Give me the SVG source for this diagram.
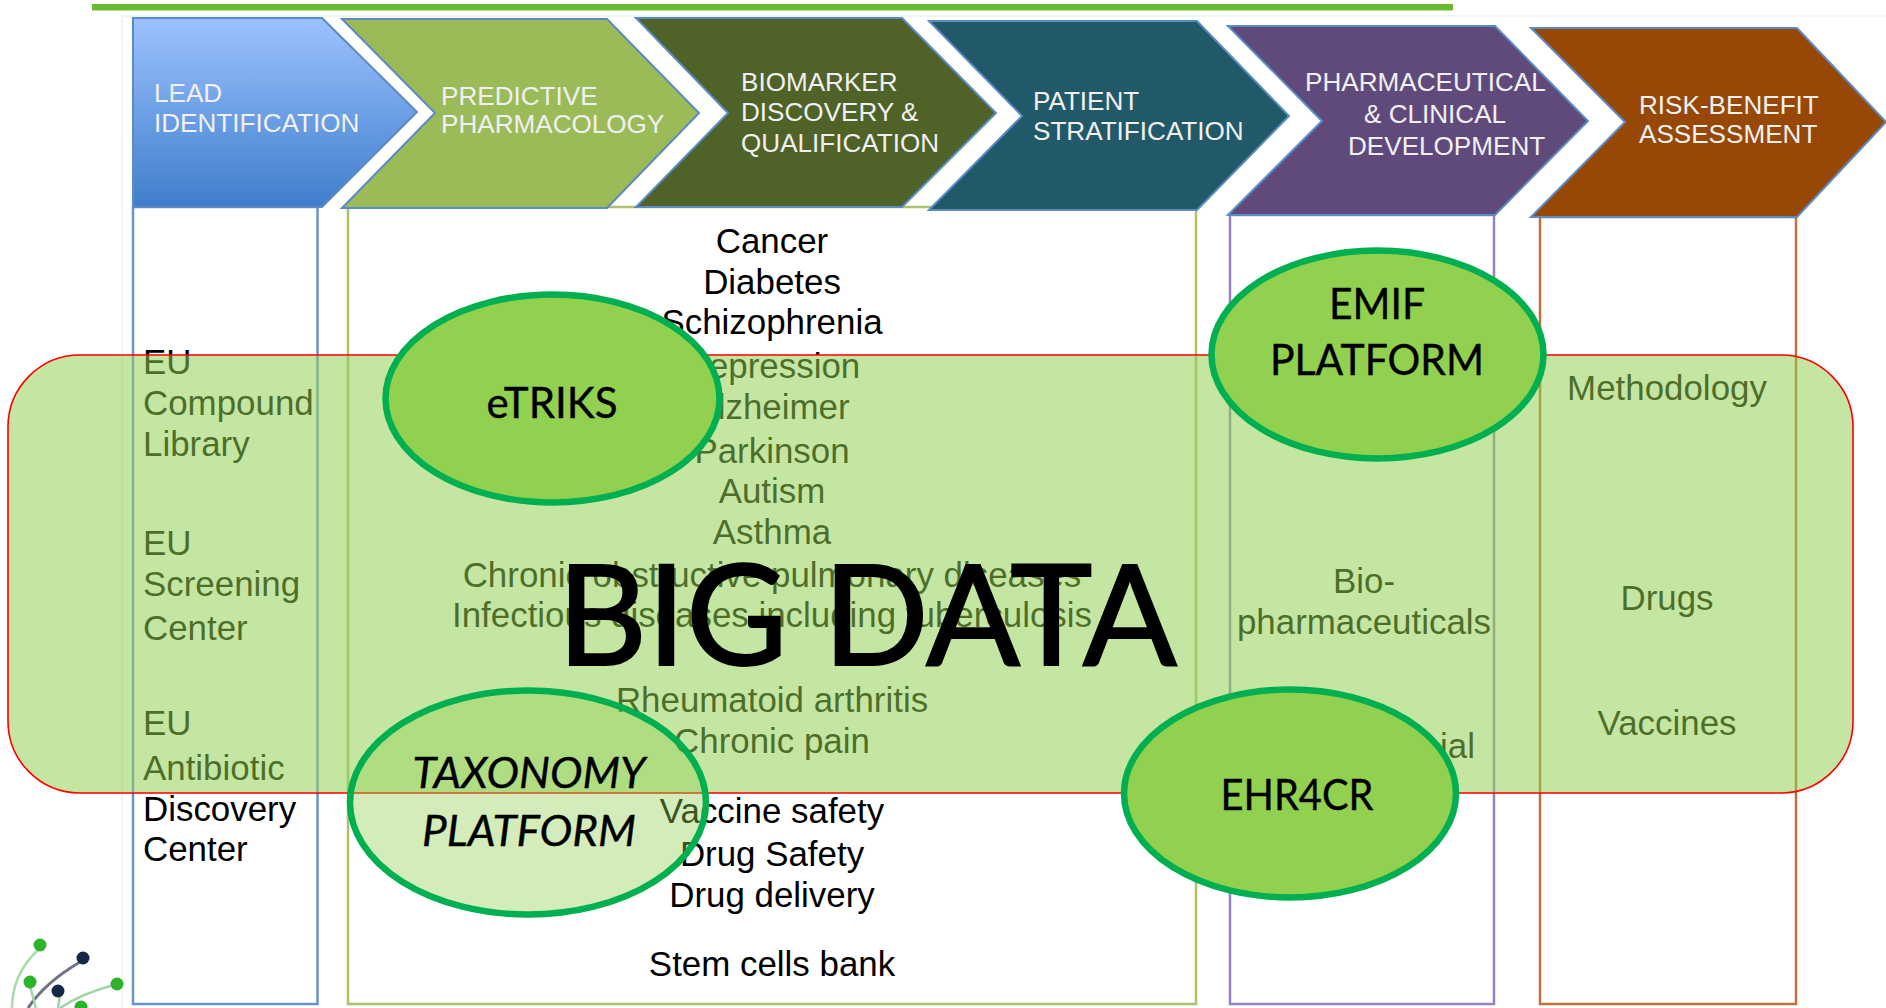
<svg xmlns="http://www.w3.org/2000/svg" width="1886" height="1008" viewBox="0 0 1886 1008">
<style>
.chev{stroke:#5b8ac4;stroke-width:2}
.ct{font-family:"Liberation Sans",Arial,sans-serif;font-size:26.1px;fill:#f0f0f0}
.lt{font-family:"Liberation Sans",Arial,sans-serif;font-size:34.9px;fill:#000}
.m{text-anchor:middle}
.box{fill:#fff;stroke-width:2.5}
.el{fill:#92d050;stroke:#00b050;stroke-width:6.5}
.et{font-family:Lato,"Open Sans",sans-serif;font-size:43px;fill:#000;stroke:#000;stroke-width:.4;text-anchor:middle}
</style>
<defs><linearGradient id="g1" x1="0" y1="0" x2="0" y2="1"><stop offset="0" stop-color="#9cc2ff"/><stop offset="1" stop-color="#3f7ecb"/></linearGradient></defs>
<rect width="1886" height="1008" fill="#fff"/>
<g id="frame"><path d="M122 1008V16H1886" fill="none" stroke="#eef6ee" stroke-width="2"/><rect x="92" y="4" width="1361" height="6.500" fill="#66bb2e"/></g>
<g id="logo" fill="none">
<path d="M12 1008C12 985 22 965 38 950" stroke="#a9dba9" stroke-width="2.500"/>
<path d="M28 1008C40 990 58 975 80 962" stroke="#6e7488" stroke-width="3"/>
<path d="M58 1008 60 995M60 1008C78 996 95 990 114 985M30 986 36 1008" stroke="#9fd5a6" stroke-width="2.500"/>
<g stroke="none"><circle cx="40" cy="945" r="6.500" fill="#2cb32c"/><circle cx="30" cy="982" r="6.500" fill="#2cb32c"/><circle cx="117" cy="984" r="6.500" fill="#2cb32c"/><circle cx="81" cy="1007" r="6.500" fill="#2cb32c"/><circle cx="83" cy="958" r="6.500" fill="#14294a"/><circle cx="58" cy="991" r="6.500" fill="#14294a"/></g>
</g>
<g id="column-lead"><rect class="box" x="133" y="207" width="184.500" height="797" stroke="#6a92c8"/>
<text class="lt" x="143" y="374">EU</text><text class="lt" x="143" y="415">Compound</text><text class="lt" x="143" y="456">Library</text>
<text class="lt" x="143" y="555">EU</text><text class="lt" x="143" y="596">Screening</text><text class="lt" x="143" y="640">Center</text>
<text class="lt" x="143" y="735">EU</text><text class="lt" x="143" y="780">Antibiotic</text><text class="lt" x="143" y="821">Discovery</text><text class="lt" x="143" y="861">Center</text></g>
<g id="column-center"><rect class="box" x="348" y="207" width="848" height="797" stroke="#a9c46c"/>
<text class="lt m" x="772" y="253">Cancer</text><text class="lt m" x="772" y="294">Diabetes</text><text class="lt m" x="772" y="334">Schizophrenia</text><text class="lt m" x="772" y="378">Depression</text><text class="lt m" x="772" y="419">Alzheimer</text><text class="lt m" x="772" y="463">Parkinson</text><text class="lt m" x="772" y="503">Autism</text><text class="lt m" x="772" y="544">Asthma</text><text class="lt m" x="772" y="587">Chronic obstructive pulmonary diseases</text><text class="lt m" x="772" y="627">Infectious diseases including tuberculosis</text><text class="lt m" x="772" y="712">Rheumatoid arthritis</text><text class="lt m" x="772" y="753">Chronic pain</text><text class="lt m" x="772" y="823">Vaccine safety</text><text class="lt m" x="772" y="866">Drug Safety</text><text class="lt m" x="772" y="907">Drug delivery</text><text class="lt m" x="772" y="976">Stem cells bank</text>
</g>
<g id="column-pharma"><rect class="box" x="1230" y="215" width="264" height="789" stroke="#9a80bd"/>
<text class="lt m" x="1364" y="593">Bio-</text><text class="lt m" x="1364" y="634">pharmaceuticals</text><text class="lt" x="1440" y="758">ial</text></g>
<g id="column-risk"><rect class="box" x="1540" y="217" width="256" height="787" stroke="#b9733f"/>
<text class="lt m" x="1667" y="400">Methodology</text><text class="lt m" x="1667" y="610">Drugs</text><text class="lt m" x="1667" y="735">Vaccines</text></g>
<g id="step-lead"><polygon class="chev" fill="url(#g1)" points="133,18 322,18 417,112 322,207 133,207"/><text class="ct" x="154" y="102">LEAD</text><text class="ct" x="154" y="132">IDENTIFICATION</text></g>
<g id="step-predictive"><polygon class="chev" fill="#9bbb59" points="342,19 607,19 699,113 607,208 342,208 435,113"/><text class="ct" x="441" y="105">PREDICTIVE</text><text class="ct" x="441" y="133">PHARMACOLOGY</text></g>
<g id="step-biomarker"><polygon class="chev" fill="#4f6228" points="636,18 902,18 996,113 902,207 636,207 728,113"/><text class="ct" x="741" y="91">BIOMARKER</text><text class="ct" x="741" y="121">DISCOVERY &amp;</text><text class="ct" x="741" y="152">QUALIFICATION</text></g>
<g id="step-patient"><polygon class="chev" fill="#215968" points="929,21 1197,21 1289,116 1197,210 929,210 1022,116"/><text class="ct" x="1033" y="110">PATIENT</text><text class="ct" x="1033" y="140">STRATIFICATION</text></g>
<g id="step-pharma"><polygon class="chev" fill="#604a7b" points="1228,26 1495,26 1588,121 1495,215 1228,215 1322,121"/><text class="ct" x="1305" y="91">PHARMACEUTICAL</text><text class="ct" x="1364" y="123">&amp; CLINICAL</text><text class="ct" x="1348" y="155">DEVELOPMENT</text></g>
<g id="step-risk"><polygon class="chev" fill="#974806" points="1531,28 1797,28 1886,122 1797,217 1531,217 1625,122"/><text class="ct" x="1639" y="114">RISK-BENEFIT</text><text class="ct" x="1639" y="143">ASSESSMENT</text></g>
<g id="big-data"><rect x="8" y="355" width="1845" height="438" rx="72" ry="72" fill="#92d050" fill-opacity=".53" stroke="#f00" stroke-width="1.600"/>
<text x="867" y="665" font-family="Lato,'Open Sans',sans-serif" font-size="139" text-anchor="middle" fill="#000" stroke="#000" stroke-width="2">BIG DATA</text></g>
<g id="etriks"><ellipse class="el" cx="552.500" cy="398.500" rx="167" ry="104"/><text class="et" x="552" y="418" textLength="131" lengthAdjust="spacingAndGlyphs">eTRIKS</text></g>
<g id="emif"><ellipse class="el" cx="1377.500" cy="354.500" rx="166" ry="104"/><text class="et" x="1377" y="319" textLength="96" lengthAdjust="spacingAndGlyphs">EMIF</text><text class="et" x="1377" y="375" textLength="214" lengthAdjust="spacingAndGlyphs">PLATFORM</text></g>
<g id="ehr4cr"><ellipse class="el" cx="1290" cy="793.500" rx="166" ry="104"/><text class="et" x="1297" y="810" textLength="153" lengthAdjust="spacingAndGlyphs">EHR4CR</text></g>
<g id="taxonomy"><ellipse class="el" cx="528" cy="802.500" rx="178" ry="112" fill-opacity=".4"/><text class="et" font-style="italic" x="529" y="788" textLength="233" lengthAdjust="spacingAndGlyphs">TAXONOMY</text><text class="et" font-style="italic" x="529" y="846" textLength="214" lengthAdjust="spacingAndGlyphs">PLATFORM</text></g>
<g id="connectors"/>
</svg>
